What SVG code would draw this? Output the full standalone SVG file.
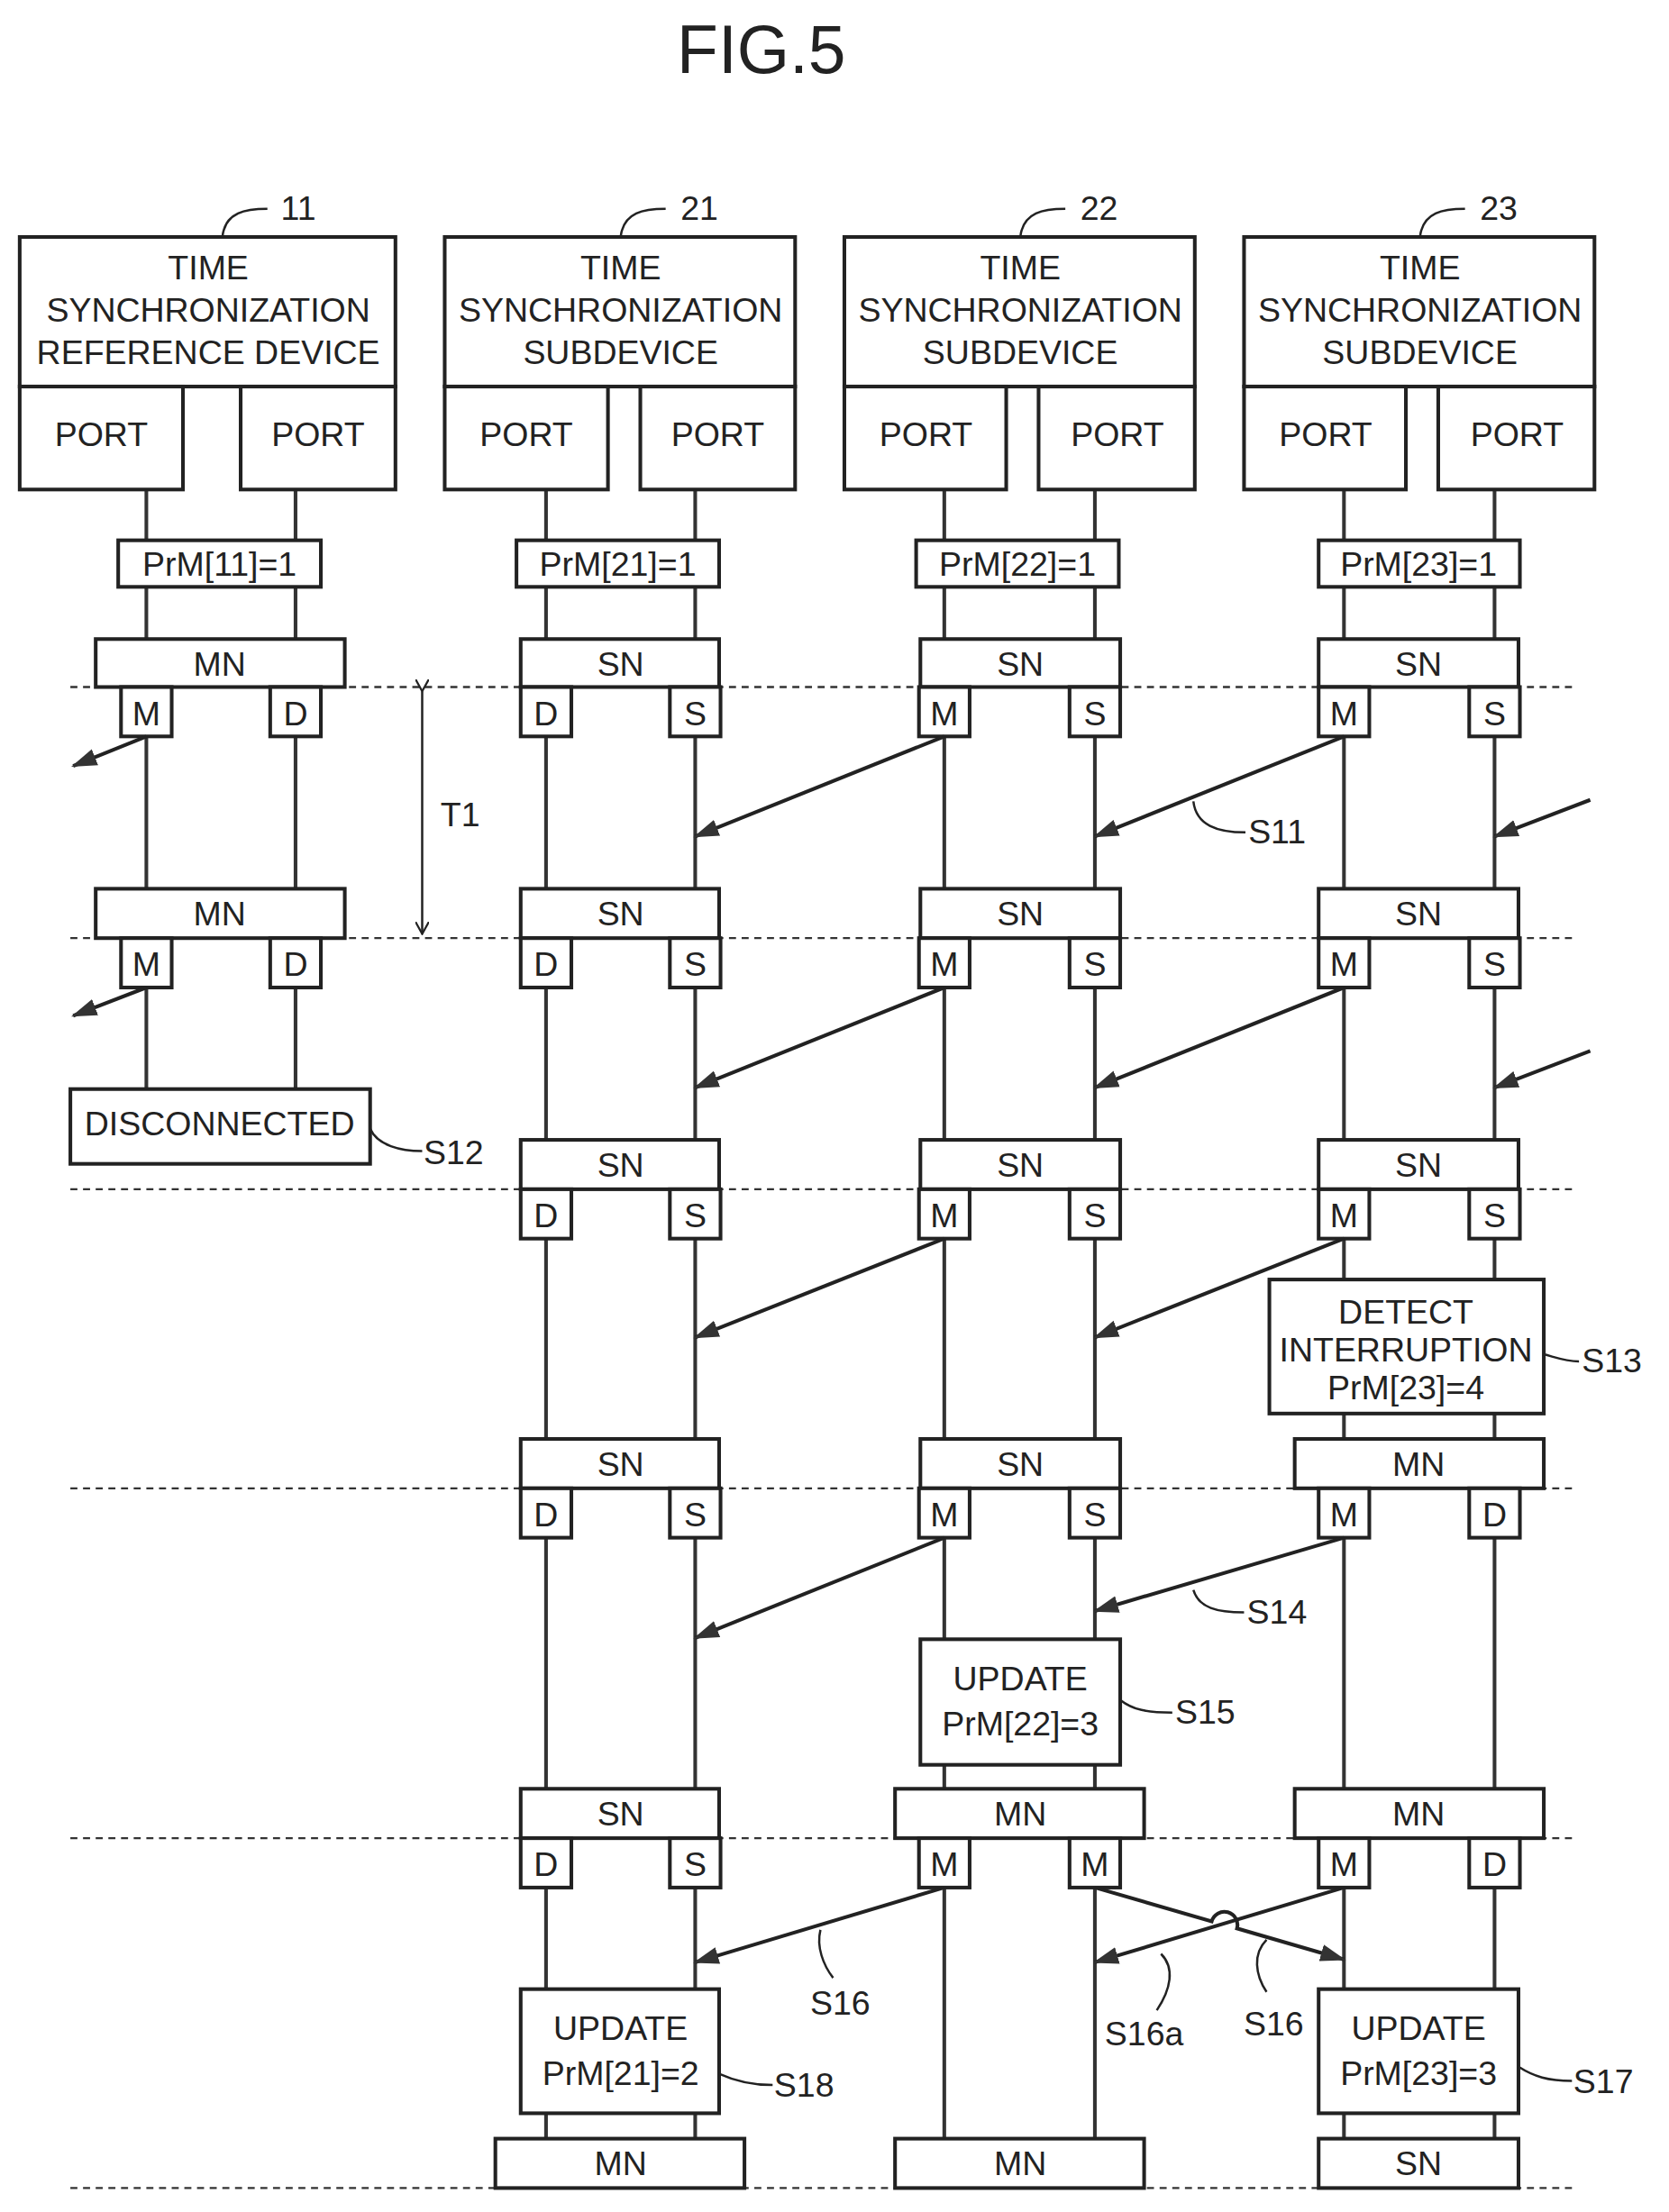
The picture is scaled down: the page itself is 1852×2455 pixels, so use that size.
<svg xmlns="http://www.w3.org/2000/svg" width="1852" height="2455" viewBox="0 0 1852 2455">
<style>
rect{fill:#fff;stroke:#222;stroke-width:2.6}
text{font-family:"Liberation Sans",Arial,sans-serif;font-size:24px;fill:#222;text-anchor:middle}
.l{text-anchor:start}
.v{stroke:#333;stroke-width:2.6;fill:none}
.d{stroke:#333;stroke-width:1.5;stroke-dasharray:5,4;fill:none}
.a{stroke:#222;stroke-width:2.6;fill:none;marker-end:url(#ah)}
.ld{stroke:#222;stroke-width:1.6;fill:none}
</style>
<defs>
<marker id="ah" viewBox="0 0 12 8" refX="11" refY="4" markerWidth="7" markerHeight="5" orient="auto" markerUnits="strokeWidth"><path d="M0,0 L12,4 L0,8 Z" fill="#333"/></marker>
<marker id="vh" viewBox="0 0 10 10" refX="9" refY="5" markerWidth="6" markerHeight="6" orient="auto" markerUnits="strokeWidth"><path d="M0,0 L9,5 L0,10" fill="none" stroke="#222" stroke-width="1.5"/></marker>
</defs>
<rect x="0" y="0" width="1852" height="2455" style="fill:#fff;stroke:none"/>
<g transform="scale(1.5616,1.5657)">
<text x="541" y="52" style="font-size:48px">FIG.5</text>

<g id="lifelines">
<path class="v" d="M104,347V772M210,347V772M388,347V1516M494,347V1516M671,347V1516M778,347V1516M955,347V1516M1062,347V1516"/>
</g>
<g id="separators">
<path class="d" d="M50,487H1118M50,665H1118M50,843H1118M50,1055H1118M50,1303H1118M50,1551H1118"/>
</g>

<g id="dev11"><rect x="14" y="168" width="267" height="106"/><rect x="14" y="274" width="116" height="73"/><rect x="171" y="274" width="110" height="73"/>
<text x="148" y="198">TIME</text><text x="148" y="228">SYNCHRONIZATION</text><text x="148" y="258">REFERENCE DEVICE</text><text x="72" y="316">PORT</text><text x="226" y="316">PORT</text>
<path class="ld" d="M158,168C160,150 175,148 190,148"/><text x="212" y="156">11</text></g>
<g id="dev21"><rect x="316" y="168" width="249" height="106"/><rect x="316" y="274" width="116" height="73"/><rect x="455" y="274" width="110" height="73"/>
<text x="441" y="198">TIME</text><text x="441" y="228">SYNCHRONIZATION</text><text x="441" y="258">SUBDEVICE</text><text x="374" y="316">PORT</text><text x="510" y="316">PORT</text>
<path class="ld" d="M441,168C443,150 458,148 473,148"/><text x="497" y="156">21</text></g>
<g id="dev22"><rect x="600" y="168" width="249" height="106"/><rect x="600" y="274" width="115" height="73"/><rect x="738" y="274" width="111" height="73"/>
<text x="725" y="198">TIME</text><text x="725" y="228">SYNCHRONIZATION</text><text x="725" y="258">SUBDEVICE</text><text x="658" y="316">PORT</text><text x="794" y="316">PORT</text>
<path class="ld" d="M725,168C727,150 742,148 757,148"/><text x="781" y="156">22</text></g>
<g id="dev23"><rect x="884" y="168" width="249" height="106"/><rect x="884" y="274" width="115" height="73"/><rect x="1022" y="274" width="111" height="73"/>
<text x="1009" y="198">TIME</text><text x="1009" y="228">SYNCHRONIZATION</text><text x="1009" y="258">SUBDEVICE</text><text x="942" y="316">PORT</text><text x="1078" y="316">PORT</text>
<path class="ld" d="M1009,168C1011,150 1026,148 1041,148"/><text x="1065" y="156">23</text></g>

<g id="prm"><rect x="84" y="383" width="144" height="33"/><text x="156" y="408">PrM[11]=1</text>
<rect x="367" y="383" width="144" height="33"/><text x="439" y="408">PrM[21]=1</text>
<rect x="651" y="383" width="144" height="33"/><text x="723" y="408">PrM[22]=1</text>
<rect x="937" y="383" width="143" height="33"/><text x="1008" y="408">PrM[23]=1</text></g>

<g id="row1">
<rect x="68" y="453" width="177" height="34"/><text x="156" y="479">MN</text>
<rect x="370" y="453" width="141" height="34"/><text x="441" y="479">SN</text>
<rect x="654" y="453" width="142" height="34"/><text x="725" y="479">SN</text>
<rect x="937" y="453" width="142" height="34"/><text x="1008" y="479">SN</text>
<rect x="86" y="487" width="36" height="35"/><text x="104" y="514">M</text>
<rect x="192" y="487" width="36" height="35"/><text x="210" y="514">D</text>
<rect x="370" y="487" width="36" height="35"/><text x="388" y="514">D</text>
<rect x="476" y="487" width="36" height="35"/><text x="494" y="514">S</text>
<rect x="653" y="487" width="36" height="35"/><text x="671" y="514">M</text>
<rect x="760" y="487" width="36" height="35"/><text x="778" y="514">S</text>
<rect x="937" y="487" width="36" height="35"/><text x="955" y="514">M</text>
<rect x="1044" y="487" width="36" height="35"/><text x="1062" y="514">S</text>
</g>
<g id="row2">
<rect x="68" y="630" width="177" height="35"/><text x="156" y="656">MN</text>
<rect x="370" y="630" width="141" height="35"/><text x="441" y="656">SN</text>
<rect x="654" y="630" width="142" height="35"/><text x="725" y="656">SN</text>
<rect x="937" y="630" width="142" height="35"/><text x="1008" y="656">SN</text>
<rect x="86" y="665" width="36" height="35"/><text x="104" y="692">M</text>
<rect x="192" y="665" width="36" height="35"/><text x="210" y="692">D</text>
<rect x="370" y="665" width="36" height="35"/><text x="388" y="692">D</text>
<rect x="476" y="665" width="36" height="35"/><text x="494" y="692">S</text>
<rect x="653" y="665" width="36" height="35"/><text x="671" y="692">M</text>
<rect x="760" y="665" width="36" height="35"/><text x="778" y="692">S</text>
<rect x="937" y="665" width="36" height="35"/><text x="955" y="692">M</text>
<rect x="1044" y="665" width="36" height="35"/><text x="1062" y="692">S</text>
</g>
<g id="disconnected"><rect x="50" y="772" width="213" height="53"/><text x="156" y="805">DISCONNECTED</text></g>
<g id="row3">
<rect x="370" y="808" width="141" height="35"/><text x="441" y="834">SN</text>
<rect x="654" y="808" width="142" height="35"/><text x="725" y="834">SN</text>
<rect x="937" y="808" width="142" height="35"/><text x="1008" y="834">SN</text>
<rect x="370" y="843" width="36" height="35"/><text x="388" y="870">D</text>
<rect x="476" y="843" width="36" height="35"/><text x="494" y="870">S</text>
<rect x="653" y="843" width="36" height="35"/><text x="671" y="870">M</text>
<rect x="760" y="843" width="36" height="35"/><text x="778" y="870">S</text>
<rect x="937" y="843" width="36" height="35"/><text x="955" y="870">M</text>
<rect x="1044" y="843" width="36" height="35"/><text x="1062" y="870">S</text>
</g>
<g id="detect"><rect x="902" y="907" width="195" height="95"/><text x="999" y="938">DETECT</text><text x="999" y="965">INTERRUPTION</text><text x="999" y="992">PrM[23]=4</text></g>
<g id="row4">
<rect x="370" y="1020" width="141" height="35"/><text x="441" y="1046">SN</text>
<rect x="654" y="1020" width="142" height="35"/><text x="725" y="1046">SN</text>
<rect x="920" y="1020" width="177" height="35"/><text x="1008" y="1046">MN</text>
<rect x="370" y="1055" width="36" height="35"/><text x="388" y="1082">D</text>
<rect x="476" y="1055" width="36" height="35"/><text x="494" y="1082">S</text>
<rect x="653" y="1055" width="36" height="35"/><text x="671" y="1082">M</text>
<rect x="760" y="1055" width="36" height="35"/><text x="778" y="1082">S</text>
<rect x="937" y="1055" width="36" height="35"/><text x="955" y="1082">M</text>
<rect x="1044" y="1055" width="36" height="35"/><text x="1062" y="1082">D</text>
</g>
<g id="update22"><rect x="654" y="1162" width="142" height="89"/><text x="725" y="1198">UPDATE</text><text x="725" y="1230">PrM[22]=3</text></g>
<g id="row5">
<rect x="370" y="1268" width="141" height="35"/><text x="441" y="1294">SN</text>
<rect x="636" y="1268" width="177" height="35"/><text x="725" y="1294">MN</text>
<rect x="920" y="1268" width="177" height="35"/><text x="1008" y="1294">MN</text>
<rect x="370" y="1303" width="36" height="35"/><text x="388" y="1330">D</text>
<rect x="476" y="1303" width="36" height="35"/><text x="494" y="1330">S</text>
<rect x="653" y="1303" width="36" height="35"/><text x="671" y="1330">M</text>
<rect x="760" y="1303" width="36" height="35"/><text x="778" y="1330">M</text>
<rect x="937" y="1303" width="36" height="35"/><text x="955" y="1330">M</text>
<rect x="1044" y="1303" width="36" height="35"/><text x="1062" y="1330">D</text>
</g>
<g id="update21"><rect x="370" y="1410" width="141" height="88"/><text x="441" y="1446">UPDATE</text><text x="441" y="1478">PrM[21]=2</text></g>
<g id="update23"><rect x="937" y="1410" width="142" height="88"/><text x="1008" y="1446">UPDATE</text><text x="1008" y="1478">PrM[23]=3</text></g>
<g id="row6">
<rect x="352" y="1516" width="177" height="35"/><text x="441" y="1542">MN</text>
<rect x="636" y="1516" width="177" height="35"/><text x="725" y="1542">MN</text>
<rect x="937" y="1516" width="142" height="35"/><text x="1008" y="1542">SN</text>
</g>

<g id="connectors">
<path class="a" d="M104,522L52,543"/><path class="a" d="M671,522L494,593"/><path class="a" d="M955,522L778,593"/><path class="a" d="M1130,567L1062,593"/>
<path class="a" d="M104,700L52,720"/><path class="a" d="M671,700L494,771"/><path class="a" d="M955,700L778,771"/><path class="a" d="M1130,745L1062,771"/>
<path class="a" d="M671,878L494,948"/><path class="a" d="M955,878L778,948"/>
<path class="a" d="M671,1090L494,1161"/><path class="a" d="M955,1090L778,1142"/>
<path class="a" d="M671,1338L494,1391"/><path class="a" d="M955,1338L778,1391"/>
<path class="a" d="M778,1338L861,1362A9,9 0 0 1 879,1367L955,1389"/>
<path d="M300,490V662" stroke="#222" stroke-width="1.6" fill="none" marker-start="url(#vh)" marker-end="url(#vh)"/>
</g>
<g id="labels">
<text x="327" y="586">T1</text>
<path class="ld" d="M848,568C850,585 865,590 885,590"/><text class="l" x="887" y="598">S11</text>
<path class="ld" d="M263,800C268,812 285,816 300,816"/><text class="l" x="301" y="825">S12</text>
<path class="ld" d="M1097,960C1105,962 1112,965 1122,965"/><text class="l" x="1124" y="973">S13</text>
<path class="ld" d="M848,1127C852,1140 865,1143 884,1143"/><text class="l" x="886" y="1151">S14</text>
<path class="ld" d="M796,1205C805,1212 815,1214 833,1214"/><text class="l" x="835" y="1222">S15</text>
<path class="ld" d="M583,1368C580,1380 585,1393 592,1402"/><text x="597" y="1428">S16</text>
<path class="ld" d="M825,1385C835,1395 832,1410 822,1425"/><text x="813" y="1450">S16a</text>
<path class="ld" d="M900,1375C890,1385 892,1400 900,1412"/><text x="905" y="1443">S16</text>
<path class="ld" d="M1079,1465C1090,1472 1100,1475 1117,1475"/><text class="l" x="1118" y="1484">S17</text>
<path class="ld" d="M511,1470C522,1475 535,1478 549,1478"/><text class="l" x="550" y="1486">S18</text>
</g>
</g>
</svg>
